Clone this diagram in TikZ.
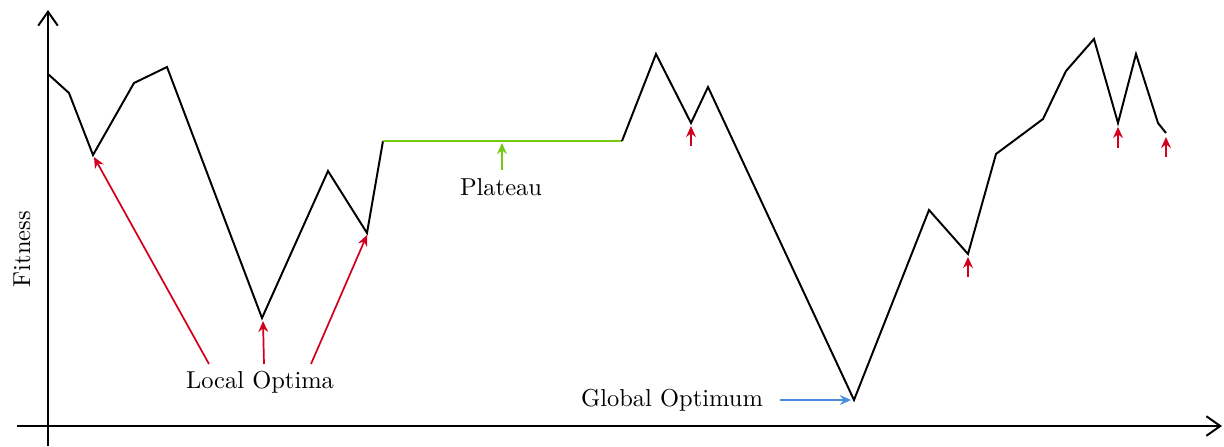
\documentclass[tikz,border=0pt]{standalone}
\usetikzlibrary{arrows.meta}
\definecolor{optred}{RGB}{210,0,30}
\definecolor{platgreen}{RGB}{118,200,20}
\definecolor{globblue}{RGB}{70,140,225}
\begin{document}
\begin{tikzpicture}[x=0.4085pt,y=-0.4085pt,
  curve/.style={line width=0.8pt,line join=miter},
  axis/.style={line width=0.8pt,-{Straight Barb[length=5.7pt,width=8pt,line width=0.8pt]}},
  redarrow/.style={optred,line width=0.7pt,-{Stealth[length=4.5pt,width=4pt,inset=1.5pt]}},
  greenarrow/.style={platgreen,line width=0.7pt,-{Stealth[length=4.5pt,width=4pt,inset=1.5pt]}},
  bluearrow/.style={globblue,line width=0.7pt,-{Stealth[length=4.5pt,width=4pt,inset=1.5pt]}},
  lbl/.style={inner sep=0pt,font=\normalsize}]
\useasboundingbox (0,0) rectangle (1224,446);
% axes
\coordinate (yb) at (48,446);
\coordinate (yt) at (48,10);
\coordinate (xl) at (17,426);
\coordinate (xr) at (1222,426);
\draw[axis] (yb) -- (yt);
\draw[axis] (xl) -- (xr);
\node[lbl,rotate=90] (fit) at (22,249) {Fitness};
% curve points
\coordinate (p1) at (48,74);
\coordinate (p2) at (69,93);
\coordinate (p3) at (93,155);
\coordinate (p4) at (134,83);
\coordinate (p5) at (167,67);
\coordinate (p6) at (262,318);
\coordinate (p7) at (328,171);
\coordinate (p8) at (367,233);
\coordinate (p9) at (383,141);
\coordinate (p10) at (622,141);
\coordinate (p11) at (656,54);
\coordinate (p12) at (691,123);
\coordinate (p13) at (708,87);
\coordinate (p14) at (854,400);
\coordinate (p15) at (929,210);
\coordinate (p16) at (968,254);
\coordinate (p17) at (996,154);
\coordinate (p18) at (1043,119);
\coordinate (p19) at (1066,71);
\coordinate (p20) at (1094,39);
\coordinate (p21) at (1118,123);
\coordinate (p22) at (1136,54);
\coordinate (p23) at (1158,123);
\coordinate (p24) at (1166,133);
\draw[curve] (p1) -- (p2) -- (p3) -- (p4) -- (p5) -- (p6) -- (p7) -- (p8) -- (p9);
\draw[curve,platgreen] (p9) -- (p10);
\draw[curve] (p10) -- (p11) -- (p12) -- (p13) -- (p14) -- (p15) -- (p16) -- (p17) -- (p18) -- (p19) -- (p20) -- (p21) -- (p22) -- (p23) -- (p24);
% labels
\node[lbl] (lo) at (260,382) {Local Optima};
\node[lbl] (go) at (672,400) {Global Optimum};
\node[lbl] (pl) at (501,187) {Plateau};
% arrow starts and tips
\coordinate (a1s) at (209,364); \coordinate (a1e) at (94,157);
\coordinate (a2s) at (264,364); \coordinate (a2e) at (263,321);
\coordinate (a3s) at (311,364); \coordinate (a3e) at (367,235);
\coordinate (a4s) at (691,146); \coordinate (a4e) at (691,126);
\coordinate (a5s) at (968,277); \coordinate (a5e) at (968,257);
\coordinate (a6s) at (1118,148); \coordinate (a6e) at (1118,127);
\coordinate (a7s) at (1166,157); \coordinate (a7e) at (1166,137);
\coordinate (gs) at (502,170); \coordinate (ge) at (502,143);
\coordinate (bs) at (780,400); \coordinate (be) at (851,400);
\draw[redarrow] (a1s) -- (a1e);
\draw[redarrow] (a2s) -- (a2e);
\draw[redarrow] (a3s) -- (a3e);
\draw[redarrow] (a4s) -- (a4e);
\draw[redarrow] (a5s) -- (a5e);
\draw[redarrow] (a6s) -- (a6e);
\draw[redarrow] (a7s) -- (a7e);
\draw[greenarrow] (gs) -- (ge);
\draw[bluearrow] (bs) -- (be);
\end{tikzpicture}
\end{document}
